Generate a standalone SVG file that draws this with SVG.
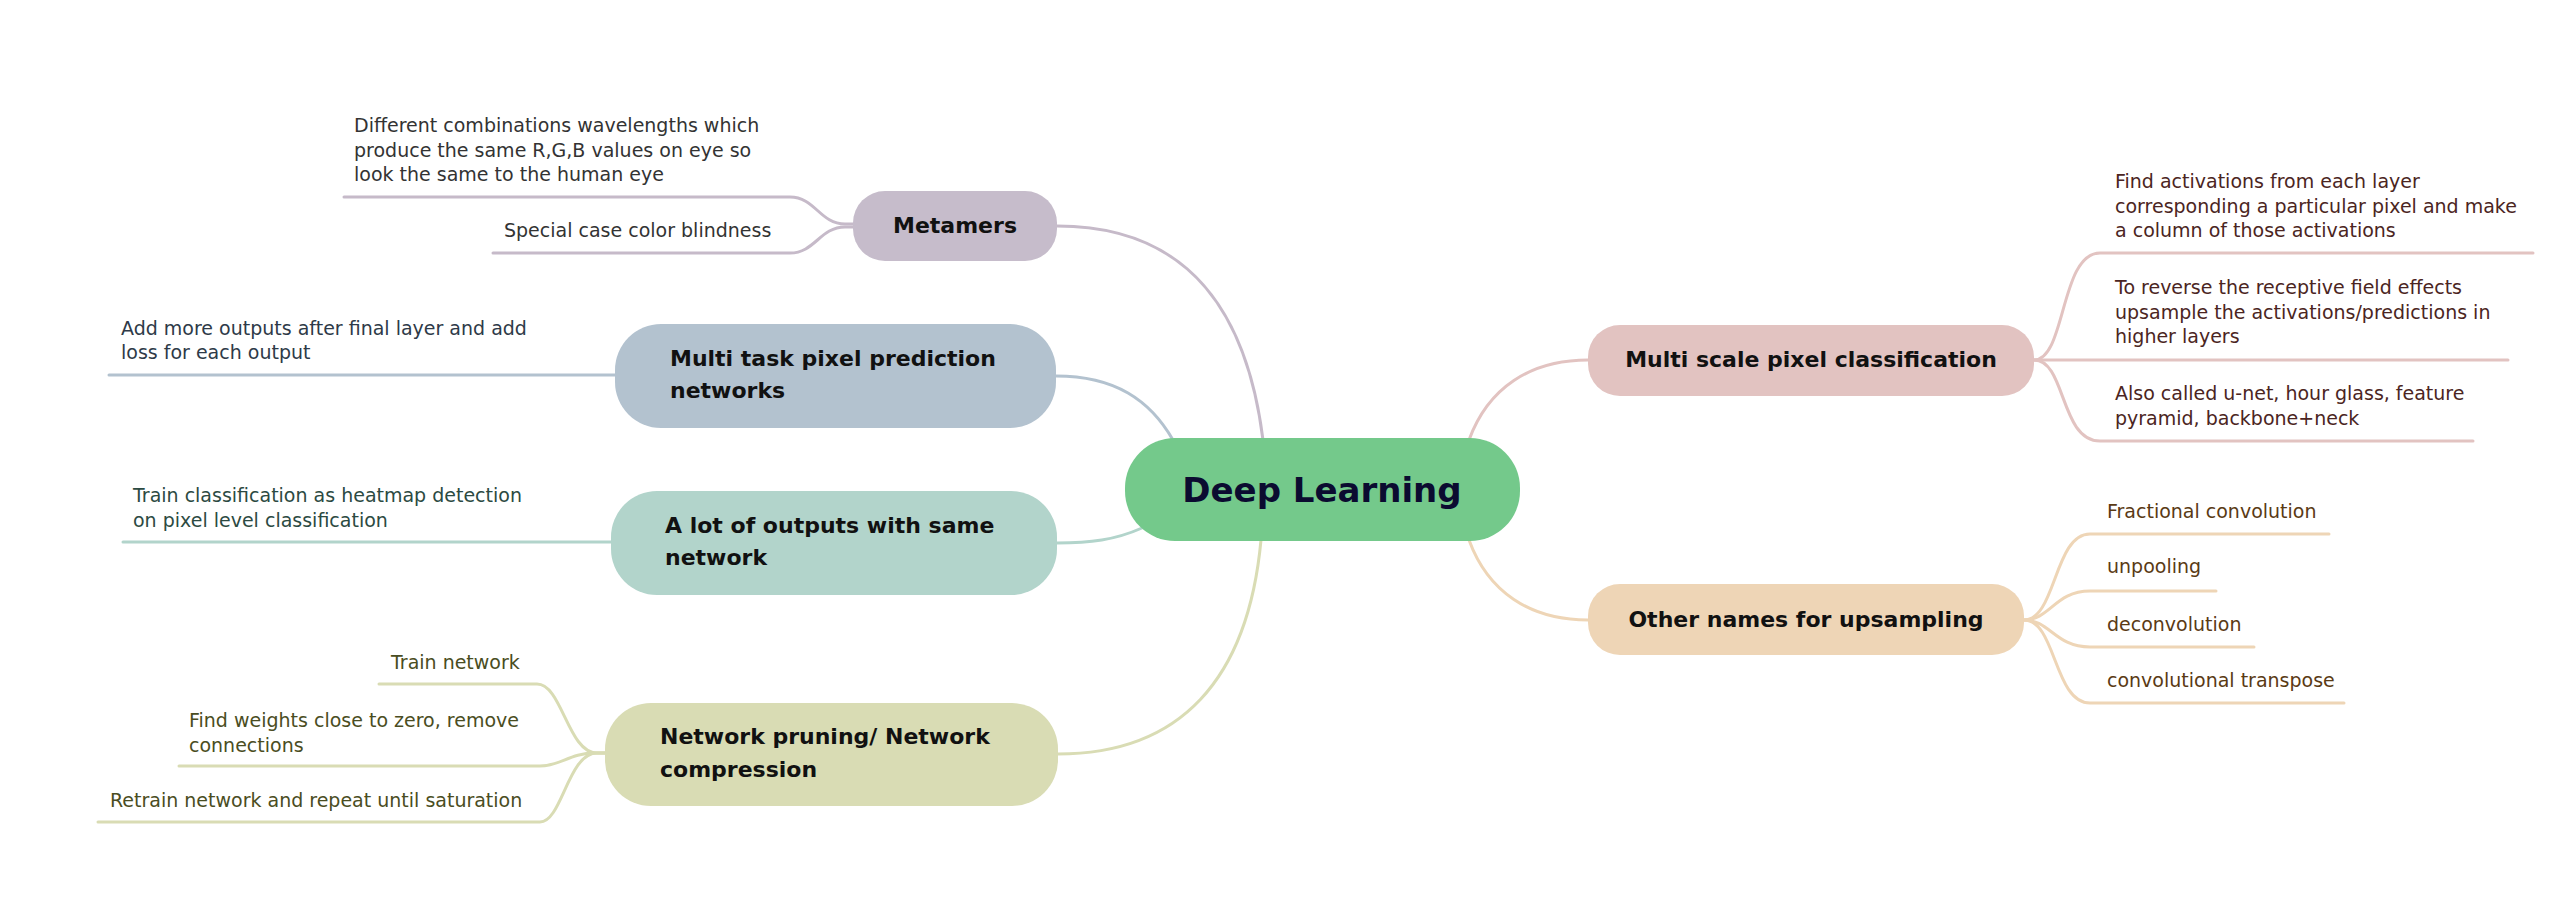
<svg xmlns="http://www.w3.org/2000/svg" width="2564" height="900" viewBox="0 0 2564 900">
<style>
.t{font-family:"DejaVu Sans","Liberation Sans",sans-serif;font-weight:bold;font-size:22px;fill:#111111}
.c{text-anchor:middle}
.l{font-family:"DejaVu Sans","Liberation Sans",sans-serif;font-size:19px}
.ln{fill:none;stroke-width:3;stroke-linecap:round}
</style>
<rect width="2564" height="900" fill="#ffffff"/>
<g id="connectors">
<path class="ln" stroke="#c6bac9" d="M1057,226 C1195,226 1248,320 1263,440"/>
<path class="ln" stroke="#b3c2cf" d="M1056,376 C1115,376 1150,400 1173,440"/>
<path class="ln" stroke="#b2d4cb" d="M1057,543 C1090,543 1115,540 1142,528"/>
<path class="ln" stroke="#d9dcb4" d="M1261,540 C1248,680 1180,754 1058,754"/>
<path class="ln" stroke="#e2c3c1" d="M1469,440 C1488,388 1530,360 1588,360"/>
<path class="ln" stroke="#eed5b6" d="M1469,540 C1488,592 1530,620 1588,620"/>
<path class="ln" stroke="#c6bac9" d="M344,197 H790 C815,197 820,224 845,224 H853"/>
<path class="ln" stroke="#c6bac9" d="M493,253 H790 C815,253 820,227 845,227 H853"/>
<path class="ln" stroke="#b3c2cf" d="M109,375 H615"/>
<path class="ln" stroke="#b2d4cb" d="M123,542 H611"/>
<path class="ln" stroke="#d9dcb4" d="M379,684 H537 C562,684 568,753 597,753 H605"/>
<path class="ln" stroke="#d9dcb4" d="M179,766 H540 C560,766 570,753 595,753 H605"/>
<path class="ln" stroke="#d9dcb4" d="M98,822 H540 C562,822 568,753 597,753 H605"/>
<path class="ln" stroke="#e2c3c1" d="M2034,360 C2066,360 2060,253 2100,253 H2533"/>
<path class="ln" stroke="#e2c3c1" d="M2034,360 H2508"/>
<path class="ln" stroke="#e2c3c1" d="M2034,360 C2066,360 2060,441 2100,441 H2473"/>
<path class="ln" stroke="#eed5b6" d="M2024,620 C2056,620 2054,534 2090,534 H2329"/>
<path class="ln" stroke="#eed5b6" d="M2024,620 C2050,620 2055,591 2090,591 H2216"/>
<path class="ln" stroke="#eed5b6" d="M2024,620 C2050,620 2055,647 2090,647 H2254"/>
<path class="ln" stroke="#eed5b6" d="M2024,620 C2056,620 2054,703 2090,703 H2344"/>
</g>
<g id="central">
<rect x="1125" y="438" width="395" height="103" rx="50" fill="#74c98b"/>
<text class="t c" x="1322" y="502" style="font-size:34px;fill:#0b0b30">Deep Learning</text>
</g>
<g id="metamers">
<rect x="853" y="191" width="204" height="70" rx="32" fill="#c6bccb"/>
<text class="t c" x="955" y="233">Metamers</text>
</g>
<g id="metamers-leaves">
<text class="l" fill="#333333" x="354" y="132">Different combinations wavelengths which</text>
<text class="l" fill="#333333" x="354" y="157">produce the same R,G,B values on eye so</text>
<text class="l" fill="#333333" x="354" y="181">look the same to the human eye</text>
<text class="l" fill="#333333" x="504" y="237">Special case color blindness</text>
</g>
<g id="multitask">
<rect x="615" y="324" width="441" height="104" rx="46" fill="#b3c2cf"/>
<text class="t" x="670" y="366">Multi task pixel prediction</text>
<text class="t" x="670" y="398">networks</text>
</g>
<g id="multitask-leaves">
<text class="l" fill="#2e3a48" x="121" y="335">Add more outputs after final layer and add</text>
<text class="l" fill="#2e3a48" x="121" y="359">loss for each output</text>
</g>
<g id="alot">
<rect x="611" y="491" width="446" height="104" rx="46" fill="#b2d4cb"/>
<text class="t" x="665" y="533">A lot of outputs with same</text>
<text class="t" x="665" y="565">network</text>
</g>
<g id="alot-leaves">
<text class="l" fill="#2c4a42" x="133" y="502">Train classification as heatmap detection</text>
<text class="l" fill="#2c4a42" x="133" y="527">on pixel level classification</text>
</g>
<g id="pruning">
<rect x="605" y="703" width="453" height="103" rx="46" fill="#d9dcb4"/>
<text class="t" x="660" y="744">Network pruning/ Network</text>
<text class="t" x="660" y="777">compression</text>
</g>
<g id="pruning-leaves">
<text class="l" fill="#4a4d22" x="391" y="669">Train network</text>
<text class="l" fill="#4a4d22" x="189" y="727">Find weights close to zero, remove</text>
<text class="l" fill="#4a4d22" x="189" y="752">connections</text>
<text class="l" fill="#4a4d22" x="110" y="807">Retrain network and repeat until saturation</text>
</g>
<g id="multiscale">
<rect x="1588" y="325" width="446" height="71" rx="32" fill="#e2c3c1"/>
<text class="t c" x="1811" y="367">Multi scale pixel classification</text>
</g>
<g id="multiscale-leaves">
<text class="l" fill="#4b2522" x="2115" y="188">Find activations from each layer</text>
<text class="l" fill="#4b2522" x="2115" y="213">corresponding a particular pixel and make</text>
<text class="l" fill="#4b2522" x="2115" y="237">a column of those activations</text>
<text class="l" fill="#4b2522" x="2115" y="294">To reverse the receptive field effects</text>
<text class="l" fill="#4b2522" x="2115" y="319">upsample the activations/predictions in</text>
<text class="l" fill="#4b2522" x="2115" y="343">higher layers</text>
<text class="l" fill="#4b2522" x="2115" y="400">Also called u-net, hour glass, feature</text>
<text class="l" fill="#4b2522" x="2115" y="425">pyramid, backbone+neck</text>
</g>
<g id="othernames">
<rect x="1588" y="584" width="436" height="71" rx="32" fill="#eed5b6"/>
<text class="t c" x="1806" y="627">Other names for upsampling</text>
</g>
<g id="othernames-leaves">
<text class="l" fill="#5a3a14" x="2107" y="518">Fractional convolution</text>
<text class="l" fill="#5a3a14" x="2107" y="573">unpooling</text>
<text class="l" fill="#5a3a14" x="2107" y="631">deconvolution</text>
<text class="l" fill="#5a3a14" x="2107" y="687">convolutional transpose</text>
</g>
</svg>
